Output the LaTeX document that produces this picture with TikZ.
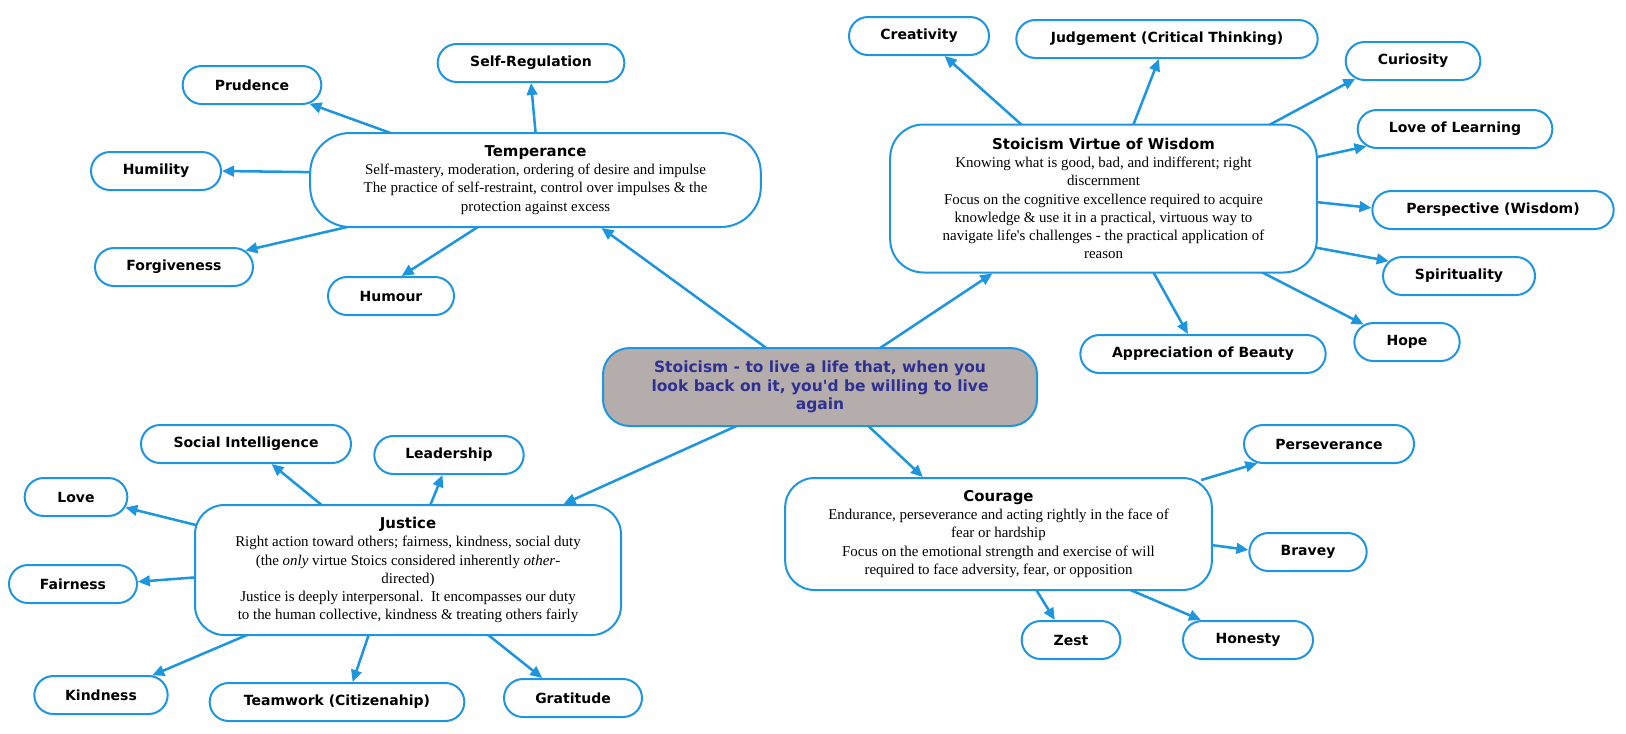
\documentclass[tikz,border=0pt]{standalone}
\usepackage{fontspec}
\setmainfont{Liberation Serif}[Ligatures=TeXOff]
\newfontfamily\mapfont{DejaVu Sans}[Ligatures=TeXOff]
\usetikzlibrary{arrows.meta,shapes.misc,backgrounds}

\definecolor{mapblue}{RGB}{30,150,222}
\definecolor{rootfill}{RGB}{181,173,171}
\definecolor{roottext}{RGB}{46,49,146}

\tikzset{
  leaf/.style={rounded rectangle, draw=mapblue, line width=1.5pt, fill=white,
    minimum height=28.5pt, inner sep=0pt,
    font=\mapfont\bfseries\fontsize{10.5}{12}\selectfont},
  virtue/.style={draw=mapblue, line width=1.5pt, rounded corners=22pt, fill=white,
    inner sep=0pt, align=center, font=\fontsize{11.2}{13.6}\selectfont},
  root/.style={draw=mapblue, line width=1.5pt, rounded corners=20pt, fill=rootfill,
    inner sep=0pt, align=center, text=roottext,
    font=\mapfont\bfseries\fontsize{11.6}{13.8}\selectfont},
  link/.style={mapblue, line width=1.9pt, shorten <=-8pt, -{Triangle[length=9pt,width=8pt]}},
}
\newcommand{\vtitle}[1]{{\mapfont\bfseries\fontsize{11.2}{13.6}\selectfont #1}}

\begin{document}
\begin{tikzpicture}[x=0.75pt,y=-0.75pt]
\useasboundingbox (0,0) rectangle (1626,733);

\node[root, minimum width=325.5pt, minimum height=58.5pt] (root) at (820,387)
  {Stoicism - to live a life that, when you\\look back on it, you'd be willing to live\\again};

\node[virtue, rounded corners=30pt, minimum width=338pt, minimum height=70.5pt] (temp) at (535.5,180)
  {\vtitle{Temperance}\\Self-mastery, moderation, ordering of desire and impulse\\The practice of self-restraint, control over impulses \& the\\protection against excess};
\node[virtue, rounded corners=25pt, minimum width=320pt, minimum height=111pt] (wis) at (1103.5,198.5)
  {\vtitle{Stoicism Virtue of Wisdom}\\Knowing what is good, bad, and indifferent; right\\discernment\\Focus on the cognitive excellence required to acquire\\knowledge \& use it in a practical, virtuous way to\\navigate life's challenges - the practical application of\\reason};
\node[virtue, minimum width=319.5pt, minimum height=97.5pt] (just) at (408,570)
  {\vtitle{Justice}\\Right action toward others; fairness, kindness, social duty\\(the \textit{only} virtue Stoics considered inherently \textit{other}-\\directed)\\Justice is deeply interpersonal.\ \ It encompasses our duty\\to the human collective, kindness \& treating others fairly};
\node[virtue, minimum width=320pt, minimum height=84pt] (cour) at (998.5,534)
  {\vtitle{Courage}\\Endurance, perseverance and acting rightly in the face of\\fear or hardship\\Focus on the emotional strength and exercise of will\\required to face adversity, fear, or opposition};

\node[leaf, minimum width=104pt] (prud) at (252,85) {Prudence};
\node[leaf, minimum width=140pt] (selfreg) at (531,63) {Self-Regulation};
\node[leaf, minimum width=97.5pt] (humil) at (156,171) {Humility};
\node[leaf, minimum width=118.5pt] (forg) at (174,267) {Forgiveness};
\node[leaf, minimum width=94.5pt] (humour) at (391,296) {Humour};

\node[leaf, minimum width=105pt] (creat) at (919,36) {Creativity};
\node[leaf, minimum width=226pt] (judg) at (1167,39) {Judgement (Critical Thinking)};
\node[leaf, minimum width=101pt] (curi) at (1413,61) {Curiosity};
\node[leaf, minimum width=146pt] (lol) at (1455,129) {Love of Learning};
\node[leaf, minimum width=181pt] (persp) at (1493,210) {Perspective (Wisdom)};
\node[leaf, minimum width=114pt] (spir) at (1459,276) {Spirituality};
\node[leaf, minimum width=79pt] (hope) at (1407,342) {Hope};
\node[leaf, minimum width=184pt] (appr) at (1203,354) {Appreciation of Beauty};

\node[leaf, minimum width=127.5pt] (pers) at (1329,444) {Perseverance};
\node[leaf, minimum width=88pt] (brav) at (1308,552) {Bravey};
\node[leaf, minimum width=74pt] (zest) at (1071,640) {Zest};
\node[leaf, minimum width=97.5pt] (hon) at (1248,640) {Honesty};

\node[leaf, minimum width=157.5pt] (socint) at (246,444) {Social Intelligence};
\node[leaf, minimum width=112pt] (lead) at (449,455) {Leadership};
\node[leaf, minimum width=77pt] (love) at (76,497) {Love};
\node[leaf, minimum width=96pt] (fair) at (73,584) {Fairness};
\node[leaf, minimum width=100pt] (kind) at (101,695) {Kindness};
\node[leaf, minimum width=191pt] (team) at (337,702) {Teamwork (Citizenahip)};
\node[leaf, minimum width=103.5pt] (grat) at (573,698) {Gratitude};

\begin{scope}[on background layer]
\draw[link] (root.144) -- (temp.324);
\draw[link] (root.33) -- (wis.214);
\draw[link] (root.205) -- (just.23);
\draw[link] (root.321) -- (cour.143);

\draw[link] (temp.162) -- (prud.342);
\draw[link] (temp.90) -- (selfreg.south);
\draw[link] (temp.178) -- (humil.east);
\draw[link] (temp.194) -- (forg.13);
\draw[link] (temp.219) -- (humour.62);

\draw[link] (wis.138) -- (creat.322);
\draw[link] (wis.68) -- (judg.248);
\draw[link] (wis.24) -- (curi.197);
\draw[link] (wis.11) -- (lol.191);
\draw[link] (wis.359) -- (persp.179);
\draw[link] (wis.347) -- (spir.168);
\draw[link] (wis.335) -- (hope.158);
\draw[link] (wis.304) -- (appr.127);

\draw[link] (cour.15) -- (pers.195);
\draw[link] (cour.357) -- (brav.178);
\draw[link] (cour.304) -- (zest.129);
\draw[link] (cour.337) -- (hon.157);

\draw[link] (just.143) -- (socint.322);
\draw[link] (just.71) -- (lead.252);
\draw[link] (just.168) -- (love.348);
\draw[link] (just.182) -- (fair.2);
\draw[link] (just.202) -- (kind.21);
\draw[link] (just.239) -- (team.52);
\draw[link] (just.321) -- (grat.147);
\end{scope}
\end{tikzpicture}
\end{document}
